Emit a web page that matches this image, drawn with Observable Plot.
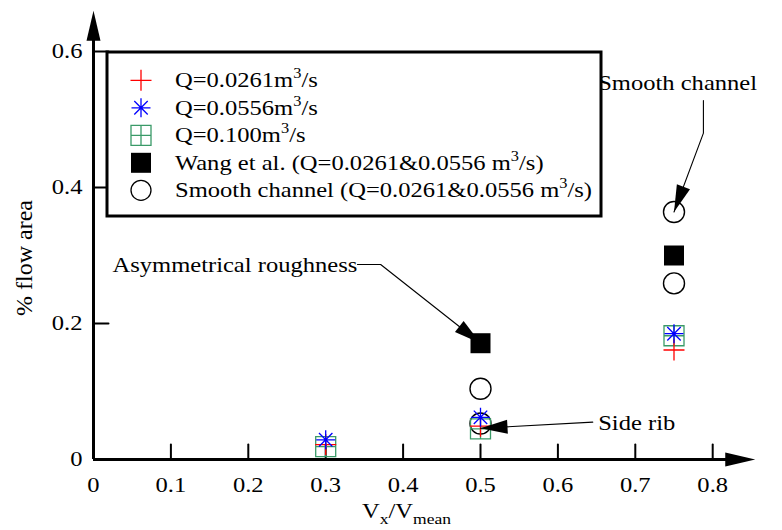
<!DOCTYPE html>
<html><head><meta charset="utf-8">
<script src="https://cdn.jsdelivr.net/npm/d3@7"></script>
<script src="https://cdn.jsdelivr.net/npm/@observablehq/plot@0.6"></script>
<style>body{margin:0;background:#fff} #chart{width:782px;height:530px}</style>
</head><body><div id="chart"></div>
<script>
// ---- data ----
const vx = [0.3, 0.5, 0.75];
const q0261 = [0.022, 0.049, 0.161];
const q0556 = [0.029, 0.062, 0.185];
const q0100 = [0.019, 0.045, 0.182];
const wangX = [0.5, 0.75];
const wangY = [0.171, 0.300];
const smoothX = [0.5, 0.5, 0.75, 0.75];
const smoothY = [0.104, 0.053, 0.364, 0.259];
const xTicks = [0, 0.1, 0.2, 0.3, 0.4, 0.5, 0.6, 0.7, 0.8];
const xTickLabels = ["0", "0.1", "0.2", "0.3", "0.4", "0.5", "0.6", "0.7", "0.8"];
const yTicks = [0, 0.2, 0.4, 0.6];
const yTickLabels = ["0", "0.2", "0.4", "0.6"];
const legendMain = ["Q=0.0261m", "Q=0.0556m", "Q=0.100m", "Wang et al. (Q=0.0261&0.0556 m", "Smooth channel (Q=0.0261&0.0556 m"];
const legendSup = ["3", "3", "3", "3", "3"];
const legendTail = ["/s", "/s", "/s", "/s)", "/s)"];
const xLabelParts = ["V", "x", "/V", "mean"];
const yLabel = "% flow area";
const annotationTexts = ["Asymmetrical roughness", "Side rib", "Smooth channel"];

// ---- layout ----
const FONT = "'Liberation Serif', 'Times New Roman', serif";
const FS = 21, STRETCH = 1.17;
const xDomain = [0, 0.855], xRange = [93, 93 + 0.855 * 774];
const yDomain = [0, 0.66], yRange = [459, 459 - 0.66 * 680];
const xs = d3.scaleLinear(xDomain, xRange), ys = d3.scaleLinear(yDomain, yRange);
const annoTextPos = [[0.0245, 0.285], [0.652, 0.053], [0.652, 0.553]];
const annoPaths = [
  [[0.341, 0.2867], [0.371, 0.2867], [0.5, 0.171]],
  [[0.645, 0.055], [0.5, 0.046]],
  [[0.788, 0.528], [0.788, 0.48], [0.75, 0.364]]
];
const RED = "#ff0000", BLUE = "#0000ff", GREEN = "#3a9a68";

// ---- symbols ----
const rad = s => Math.sqrt(s / Math.PI);
const plusSym = {draw(c, s) {const r = rad(s); c.moveTo(-r, 0); c.lineTo(r, 0); c.moveTo(0, -r); c.lineTo(0, r);}};
const starSym = {draw(c, s) {const r = rad(s), d = r * Math.SQRT1_2; c.moveTo(-r, 0); c.lineTo(r, 0); c.moveTo(0, -r); c.lineTo(0, r); c.moveTo(-d, -d); c.lineTo(d, d); c.moveTo(-d, d); c.lineTo(d, -d);}};
const boxPlusSym = {draw(c, s) {const r = rad(s); c.rect(-r, -r, 2 * r, 2 * r); c.moveTo(-r, 0); c.lineTo(r, 0); c.moveTo(0, -r); c.lineTo(0, r);}};
const squareSym = {draw(c, s) {const r = rad(s); c.rect(-r, -r, 2 * r, 2 * r);}};
const triShape = w => ({draw(c, l) {c.moveTo(0, -l); c.lineTo(w, 0); c.lineTo(-w, 0); c.closePath();}});
const tickShape = {draw(c, l) {c.moveTo(0, 0); c.lineTo(0, -l);}};

const series = (ys_) => vx.map((x, i) => ({x, y: ys_[i]}));
const wang = wangX.map((x, i) => ({x, y: wangY[i]}));
const smooth = smoothX.map((x, i) => ({x, y: smoothY[i]}));

const annoLines = annoPaths.flatMap((p, id) => p.map(([x, y]) => ({id, x, y})));
const annoHeads = annoPaths.map(p => {
  const [P, T] = p.slice(-2);
  const dx = xs(T[0]) - xs(P[0]), dy = ys(T[1]) - ys(P[1]);
  return {x: T[0], y: T[1], rot: Math.atan2(dx, -dy) * 180 / Math.PI};
});
const annoLabels = annotationTexts.map((t, i) => ({t, x: annoTextPos[i][0], y: annoTextPos[i][1]}));

const plot = Plot.plot({
  width: 782, height: 530,
  marginLeft: 0, marginRight: 0, marginTop: 0, marginBottom: 0,
  style: {fontFamily: FONT, fontSize: FS + "px", background: "white", color: "black"},
  x: {domain: xDomain, range: xRange, axis: null},
  y: {domain: yDomain, range: yRange, axis: null},
  marks: [
    // axes
    Plot.ruleY([0], {x1: () => 0, x2: () => 0.83, y: d => d, stroke: "black", strokeWidth: 3}),
    Plot.ruleX([0], {y1: () => 0, y2: () => 0.63, x: d => d, stroke: "black", strokeWidth: 3}),
    Plot.vector([{x: 0.855, y: 0}], {x: "x", y: "y", length: 30, rotate: 90, anchor: "end", shape: triShape(7), fill: "black", stroke: "none"}),
    Plot.vector([{x: 0, y: 0.66}], {x: "x", y: "y", length: 30, rotate: 0, anchor: "end", shape: triShape(7), fill: "black", stroke: "none"}),
    Plot.vector(xTicks.slice(1), {x: d => d, y: () => 0, length: 15, rotate: 0, anchor: "start", shape: tickShape, stroke: "black", strokeWidth: 2}),
    Plot.vector(yTicks.slice(1), {x: () => 0, y: d => d, length: 15, rotate: 90, anchor: "start", shape: tickShape, stroke: "black", strokeWidth: 2}),
    Plot.text(xTicks, {x: d => d, y: () => 0, text: (d, i) => xTickLabels[i], dy: 26, fontSize: FS, fill: "black"}),
    Plot.text(yTicks, {x: () => 0, y: d => d, text: (d, i) => yTickLabels[i], dx: -11, textAnchor: "end", fontSize: FS, fill: "black"}),
    // data
    Plot.dot(wang, {x: "x", y: "y", r: 10, symbol: squareSym, fill: "black", stroke: "none"}),
    Plot.dot(smooth, {x: "x", y: "y", r: 10.5, fill: "white", fillOpacity: 0, stroke: "black", strokeWidth: 1.4}),
    Plot.dot(series(q0100), {x: "x", y: "y", r: 10, symbol: boxPlusSym, fill: "none", stroke: GREEN, strokeWidth: 1.3}),
    Plot.dot(series(q0261), {x: "x", y: "y", r: 10.5, symbol: plusSym, fill: "none", stroke: RED, strokeWidth: 1.3}),
    Plot.dot(series(q0556), {x: "x", y: "y", r: 9.5, symbol: starSym, fill: "none", stroke: BLUE, strokeWidth: 1.3}),
    // annotations
    Plot.line(annoLines, {x: "x", y: "y", z: "id", stroke: "black", strokeWidth: 1.1, curve: "linear"}),
    Plot.vector(annoHeads, {x: "x", y: "y", rotate: "rot", length: 27, anchor: "end", shape: triShape(7), fill: "black", stroke: "none"}),
    Plot.text(annoLabels, {x: "x", y: "y", text: "t", textAnchor: "start", fontSize: FS, fill: "black"})
  ]
});

const svg = d3.select(plot);

// legend
const lg = svg.append("g").attr("text-anchor", "start");
lg.append("rect").attr("x", 107).attr("y", 52).attr("width", 494).attr("height", 164)
  .attr("fill", "white").attr("stroke", "black").attr("stroke-width", 3);
const legSyms = [
  {sym: plusSym, r: 10.5, fill: "none", stroke: RED},
  {sym: starSym, r: 9.5, fill: "none", stroke: BLUE},
  {sym: boxPlusSym, r: 10, fill: "none", stroke: GREEN},
  {sym: squareSym, r: 10, fill: "black", stroke: "none"},
  {sym: d3.symbolCircle, r: 10, fill: "none", stroke: "black"}
];
legendMain.forEach((m, i) => {
  const base = 87.3 + i * 27.5;
  const s = legSyms[i];
  lg.append("path").attr("transform", `translate(141,${base - 7})`)
    .attr("d", d3.symbol(s.sym, s.r * s.r * Math.PI)())
    .attr("fill", s.fill).attr("stroke", s.stroke).attr("stroke-width", 1.3);
  const t = lg.append("text").attr("transform", `translate(175,${base})`)
    .attr("text-anchor", "start").attr("font-size", FS).attr("fill", "black");
  t.append("tspan").text(m);
  t.append("tspan").attr("font-size", 14).attr("dy", -9).text(legendSup[i]);
  t.append("tspan").attr("font-size", FS).attr("dy", 9).text(legendTail[i]);
});

// x label with subscripts
const xl = svg.append("text").attr("transform", `translate(${xs(0.405)},518)`)
  .attr("text-anchor", "middle").attr("font-size", FS).attr("fill", "black");
xl.append("tspan").text(xLabelParts[0]);
xl.append("tspan").attr("font-size", 15).attr("dy", 6).text(xLabelParts[1]);
xl.append("tspan").attr("font-size", FS).attr("dy", -6).text(xLabelParts[2]);
xl.append("tspan").attr("font-size", 15).attr("dy", 6).text(xLabelParts[3]);

// horizontal stretch to mimic the reference typography
svg.selectAll("text").each(function () {
  const t = this.getAttribute("transform") || "";
  this.setAttribute("transform", t + ` scale(${STRETCH},1)`);
});

// y label
svg.append("text").attr("transform", "translate(24,258) rotate(-90)")
  .attr("text-anchor", "middle").attr("dy", "0.32em").attr("font-size", 24).attr("fill", "black").text(yLabel);

document.getElementById("chart").append(plot);
</script></body></html>
